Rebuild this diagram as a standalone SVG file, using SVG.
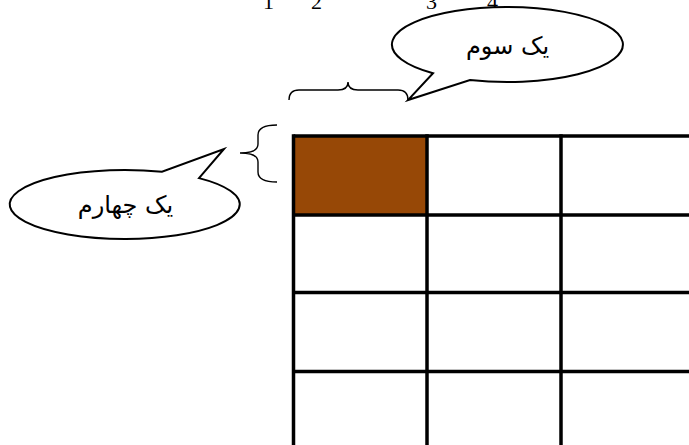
<svg xmlns="http://www.w3.org/2000/svg" width="689" height="445" viewBox="0 0 689 445">
<style>
.ln{stroke:#000;stroke-width:3.5;fill:none}
.co{stroke:#000;stroke-width:2;fill:#fff;stroke-linejoin:miter}
.br{stroke:#000;stroke-width:1.4;fill:none}
.fa{font-family:"DejaVu Sans",sans-serif;font-size:24px;fill:#000}
.num{font-family:"Liberation Serif",serif;font-size:22px;fill:#000}
</style>
<rect width="689" height="445" fill="#fff"/>
<g id="numbers">
<text class="num" x="263" y="9">1</text>
<text class="num" x="311" y="9">2</text>
<text class="num" x="426" y="9">3</text>
<text class="num" x="487" y="9">4</text>
</g>
<g id="grid">
<rect x="293.5" y="136" width="133.5" height="79" fill="#974806"/>
<line class="ln" x1="293.5" y1="136" x2="689" y2="136"/>
<line class="ln" x1="293.5" y1="215" x2="689" y2="215"/>
<line class="ln" x1="293.5" y1="292.5" x2="689" y2="292.5"/>
<line class="ln" x1="293.5" y1="371.5" x2="689" y2="371.5"/>
<line class="ln" x1="293.5" y1="134.3" x2="293.5" y2="445"/>
<line class="ln" x1="427" y1="134.3" x2="427" y2="445"/>
<line class="ln" x1="561" y1="134.3" x2="561" y2="445"/>
</g>
<g id="brace-top">
<path class="br" d="M289,100 Q289,90 299,90 L338,90 Q348,90 348,82 Q348,90 358,90 L398,90 Q408,90 408,100"/>
</g>
<g id="brace-left">
<path class="br" d="M277,125 Q258,125 258,135 L258,144 Q258,153 240,153 Q258,153 258,162 L258,172 Q258,182 277,182"/>
</g>
<g id="callout-top">
<path class="co" d="M433,73.2 A115.5,37.5 0 1 1 470,80 L408,100 Z"/>
<text class="fa" x="507.5" y="54" text-anchor="middle">یک سوم</text>
</g>
<g id="callout-left">
<path class="co" d="M199,178.1 A115,34.5 0 1 1 162,171.8 L224,149 Z"/>
<text class="fa" x="125.5" y="213" text-anchor="middle">یک چهارم</text>
</g>
</svg>
